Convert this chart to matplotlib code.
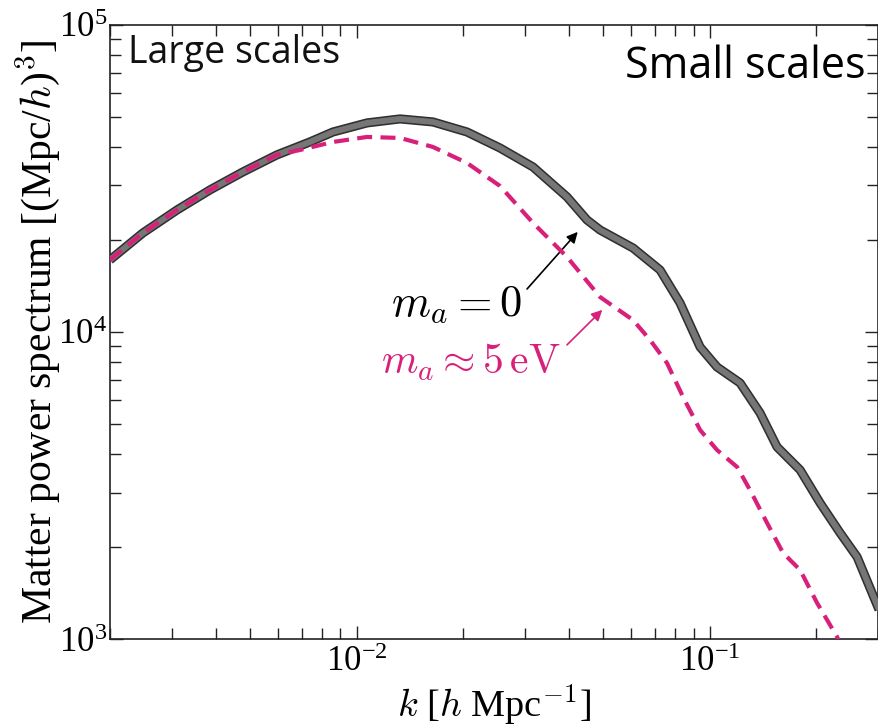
import matplotlib
matplotlib.use("Agg")
import matplotlib.pyplot as plt
import matplotlib.patheffects as pe
from matplotlib.ticker import LogLocator, NullFormatter

# Wavenumbers k [h/Mpc] and matter power spectra P(k) [(Mpc/h)^3]
k_massless = [0.00200, 0.00248, 0.00310, 0.00384, 0.00476, 0.00594, 0.00737,
              0.00857, 0.01070, 0.01327, 0.01645, 0.02054, 0.02547, 0.03160,
              0.03944, 0.04494, 0.04891, 0.06066, 0.07234, 0.08243, 0.09393,
              0.1049, 0.1219, 0.1389, 0.1552, 0.1804, 0.2055, 0.2342, 0.2616,
              0.302]
p_massless = [17160, 21010, 24970, 29010, 33200, 37720, 41580,
              44810, 47960, 49420, 48310, 44810, 39740, 34460,
              27530, 23160, 21490, 18770, 15920, 12430, 8935,
              7690, 6823, 5447, 4222, 3552, 2773, 2214, 1850,
              1243]

k_axion = [0.00200, 0.00248, 0.00310, 0.00384, 0.00476, 0.00594, 0.00691,
           0.00857, 0.01070, 0.01327, 0.01645, 0.02054, 0.02547, 0.03160,
           0.03944, 0.04891, 0.06066, 0.06779, 0.07569, 0.08408, 0.09393,
           0.1049, 0.1196, 0.1301, 0.1454, 0.1614, 0.1804, 0.2015, 0.2297,
           0.2405]
p_axion = [17160, 21010, 24970, 29010, 33200, 37720, 39150,
           41580, 43170, 42850, 40050, 35520, 29890, 22650,
           17550, 13000, 10940, 9417, 7925, 6141, 4796,
           4127, 3633, 3057, 2387, 1906, 1678, 1310, 1015,
           887]

label_massless = r"$m_a = 0$"
label_axion = r"$m_a \approx 5\,\mathrm{eV}$"
pink = "#d8207a"

plt.rcParams["mathtext.fontset"] = "cm"
plt.rcParams["font.family"] = ["Liberation Serif", "DejaVu Serif"]

fig = plt.figure(figsize=(8.79, 7.25), dpi=100)
ax = fig.add_axes([0.125, 0.1186, 0.874, 0.847])

ax.plot(k_massless, p_massless, color="#767676", lw=4.3, solid_capstyle="butt",
        solid_joinstyle="round",
        path_effects=[pe.Stroke(linewidth=6.6, foreground="#303030",
                                joinstyle="round"), pe.Normal()],
        zorder=3)
ax.plot(k_axion, p_axion, color=pink, lw=3.0, dashes=(3.6, 2.0),
        dash_joinstyle="round", zorder=4)

ax.set_xscale("log")
ax.set_yscale("log")
ax.set_xlim(0.002, 0.3)
ax.set_ylim(1e3, 1e5)

for axis in (ax.xaxis, ax.yaxis):
    axis.set_major_locator(LogLocator(base=10, numticks=10))
    axis.set_minor_locator(LogLocator(base=10, subs=range(2, 10), numticks=20))
    axis.set_minor_formatter(NullFormatter())

ax.tick_params(which="both", direction="in", top=True, right=True,
               width=1.0, color="#222222", labelsize=25)
ax.tick_params(which="major", length=9.5, pad=5)
ax.tick_params(axis="y", which="major", pad=2)
ax.tick_params(which="minor", length=8)
for s in ax.spines.values():
    s.set_linewidth(1.2)
    s.set_color("#222222")

ax.set_xlabel(r"$k$ [$h$ Mpc$^{-1}$]", fontsize=27.5, labelpad=2)
ax.set_ylabel(r"Matter power spectrum [(Mpc/$h$)$^3$]", fontsize=30)
ax.yaxis.set_label_coords(-0.062, 0.5)

ax.text(0.0234, 0.985, "Large scales", transform=ax.transAxes, ha="left",
        va="top", fontsize=27, family=["Open Sans", "DejaVu Sans"], color="#111111")
ax.text(0.983, 0.968, "Small scales", transform=ax.transAxes, ha="right",
        va="top", fontsize=31, family=["Open Sans", "DejaVu Sans"], color="#000000")

ax.text(0.4505, 0.5456, label_massless, transform=ax.transAxes, ha="center",
        va="center", fontsize=32, color="black")
ax.annotate("", xy=(0.609, 0.663), xytext=(0.543, 0.570),
            xycoords="axes fraction", textcoords="axes fraction",
            arrowprops=dict(arrowstyle="-|>", color="black", lw=1.2,
                            mutation_scale=16, shrinkA=0, shrinkB=0))

ax.text(0.470, 0.451, label_axion, transform=ax.transAxes, ha="center",
        va="center", fontsize=30, color=pink)
ax.annotate("", xy=(0.641, 0.536), xytext=(0.595, 0.479),
            xycoords="axes fraction", textcoords="axes fraction",
            arrowprops=dict(arrowstyle="-|>", color=pink, lw=1.2,
                            mutation_scale=16, shrinkA=0, shrinkB=0))

fig.savefig("out.png", dpi=100)
